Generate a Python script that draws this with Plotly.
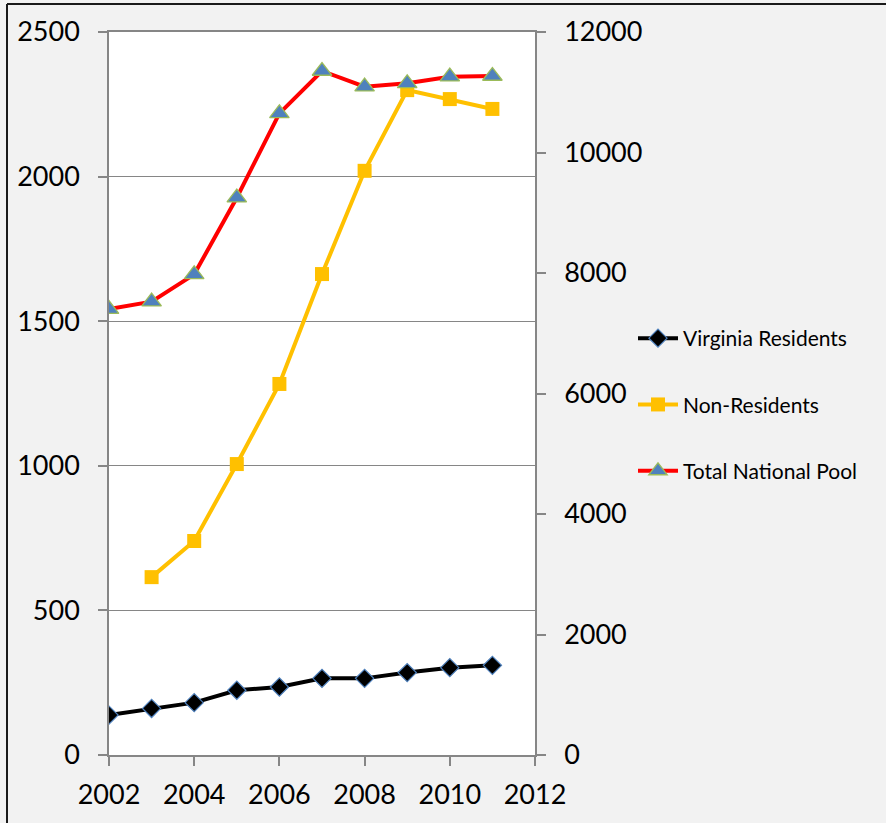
import plotly.graph_objects as go

years = [2002, 2003, 2004, 2005, 2006, 2007, 2008, 2009, 2010, 2011]
virginia_residents = [138, 161, 181, 224, 235, 265, 265, 285, 302, 310]
non_resident_years = [2003, 2004, 2005, 2006, 2007, 2008, 2009, 2010, 2011]
non_residents = [615, 740, 1006, 1283, 1663, 2020, 2299, 2268, 2234]
total_national_pool = [7400, 7524, 7978, 9250, 10650, 11353, 11093, 11148, 11259, 11270]

FONT = "Lato"
GRAY = "#868686"

fig = go.Figure()
fig.add_trace(go.Scatter(
    x=years, y=virginia_residents, name="Virginia Residents", mode="lines+markers",
    line=dict(color="#000000", width=4),
    marker=dict(symbol="diamond", size=14, color="#000000", line=dict(color="#4f81bd", width=1.2)),
    legendgroup="a", yaxis="y"))
fig.add_trace(go.Scatter(
    x=non_resident_years, y=non_residents, name="Non-Residents", mode="lines+markers",
    line=dict(color="#ffc000", width=4),
    marker=dict(symbol="square", size=14, color="#ffc000", line=dict(color="#ffc000", width=0)),
    legendgroup="b", yaxis="y"))
fig.add_trace(go.Scatter(
    x=years, y=total_national_pool, name="Total National Pool", mode="lines+markers",
    line=dict(color="#ff0000", width=4),
    marker=dict(symbol="triangle-up", size=17, color="#4f81bd", line=dict(color="#9bbb59", width=1.3)),
    legendgroup="c", yaxis="y2"))

W, H = 886, 823
L, R, T, B = 109, 535, 32, 755
pw, ph = R - L, B - T

def px(x):
    return (x - L) / pw

def py(y):
    return (B - y) / ph

fig.update_layout(
    width=W, height=H,
    margin=dict(l=L, r=W - R, t=T, b=H - B, pad=0),
    paper_bgcolor="#f2f2f2", plot_bgcolor="#ffffff",
    font=dict(family=FONT, size=27, color="#000000"),
    showlegend=True,
    legend=dict(x=px(633), y=py(318), xanchor="left", yanchor="top",
                font=dict(family=FONT, size=21, color="#000000"),
                bgcolor="rgba(0,0,0,0)", traceorder="grouped", tracegroupgap=36,
                itemwidth=40),
    xaxis=dict(range=[2002, 2012], dtick=2, tick0=2002, showgrid=False, zeroline=False,
               showline=True, linecolor=GRAY, linewidth=1.5, mirror=True,
               ticks="outside", ticklen=9, tickcolor=GRAY, tickwidth=1.5,
               ticklabelstandoff=6,
               tickfont=dict(family=FONT, size=27, color="#000000")),
    yaxis=dict(range=[0, 2500], dtick=500, tick0=0, showgrid=True, gridcolor=GRAY, gridwidth=1.2,
               zeroline=False, showline=True, linecolor=GRAY, linewidth=1.5,
               ticks="outside", ticklen=9, tickcolor=GRAY, tickwidth=1.5,
               ticklabelstandoff=13, tickformat="d",
               tickfont=dict(family=FONT, size=27, color="#000000")),
    yaxis2=dict(range=[0, 12000], dtick=2000, tick0=0, overlaying="y", side="right",
                showgrid=False, zeroline=False, showline=True, linecolor=GRAY, linewidth=1.5,
                ticks="outside", ticklen=9, tickcolor=GRAY, tickwidth=1.5,
                ticklabelstandoff=13, tickformat="d",
                tickfont=dict(family=FONT, size=27, color="#000000")),
    shapes=[
        dict(type="line", xref="paper", yref="paper", x0=px(7), x1=px(W + 5), y0=py(4), y1=py(4),
             line=dict(color="#1a1a1a", width=2)),
        dict(type="line", xref="paper", yref="paper", x0=px(7), x1=px(7), y0=py(4), y1=py(H + 5),
             line=dict(color="#1a1a1a", width=2)),
    ],
)

fig.write_html("out.html", config={"displayModeBar": False},
               post_script="document.body.style.margin='0px';document.body.style.overflow='hidden';")
